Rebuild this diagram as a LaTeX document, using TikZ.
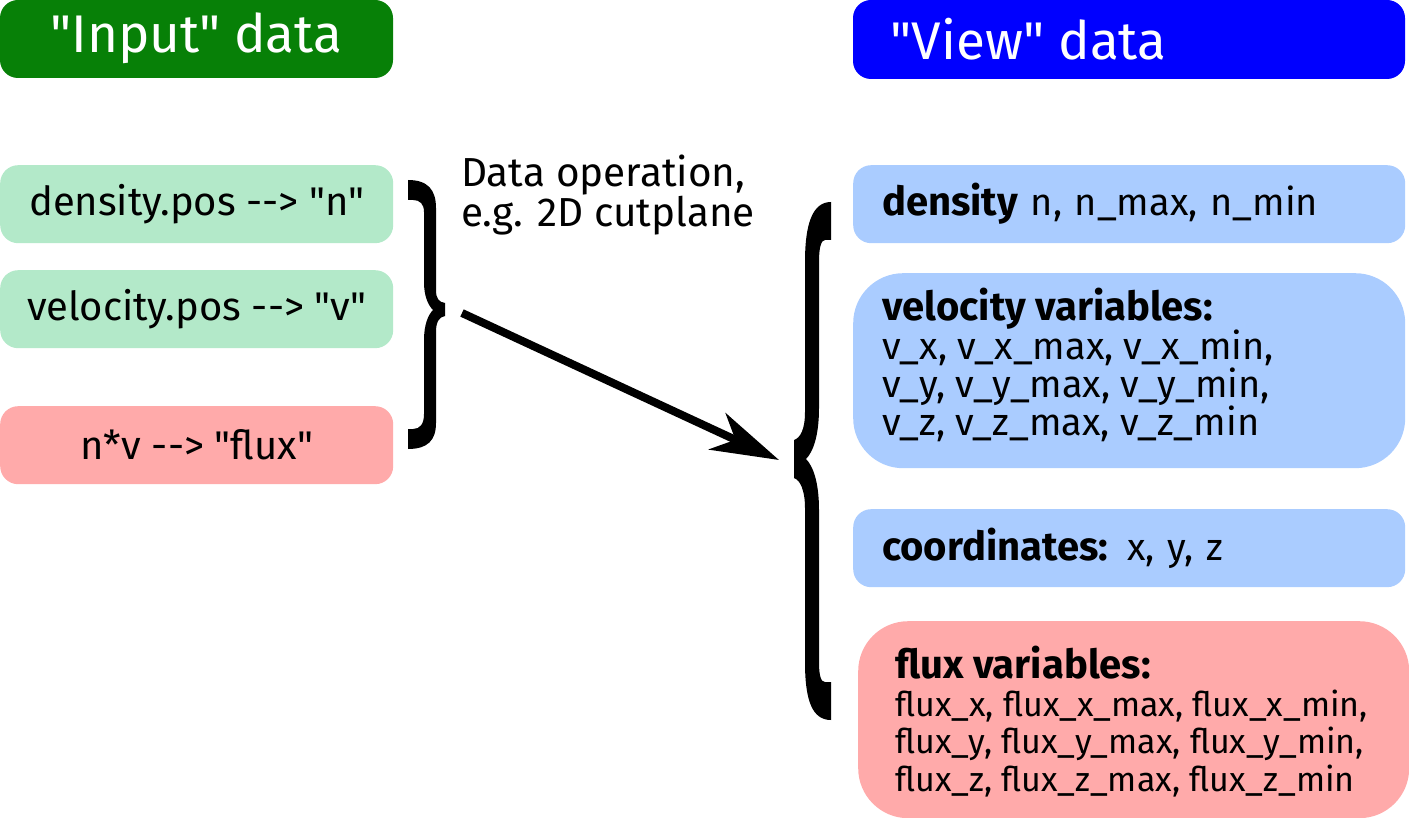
\documentclass[tikz,border=0pt]{standalone}
\usepackage{fontspec}
\setmainfont{Fira Sans}[Ligatures=TeXOff]
\usetikzlibrary{arrows.meta}
\definecolor{hdgreen}{RGB}{7,128,7}
\definecolor{hdblue}{RGB}{0,0,255}
\definecolor{lgreen}{RGB}{179,233,201}
\definecolor{lpink}{RGB}{255,170,170}
\definecolor{lblue}{RGB}{170,204,255}
\newcommand{\ttl}[1]{{\fontsize{40}{38}\selectfont\textbf{#1}}}
\tikzset{
  hdrtext/.style={text=white, inner sep=0pt, font=\fontsize{53}{56}\selectfont},
  lbox/.style={draw=none, rounded corners=18pt, inner sep=0pt, anchor=north west,
               minimum width=393pt, minimum height=78pt, font=\fontsize{40}{40}\selectfont},
  rbox/.style={draw=none, rounded corners=18pt, inner ysep=0pt, inner xsep=29pt, anchor=north west,
               minimum width=552pt, text width=494pt, align=left, font=\fontsize{38}{38}\selectfont},
  rshape/.style={draw=none, rounded corners=50pt, inner sep=0pt, anchor=north west},
  rtext/.style={anchor=west, align=left, inner sep=0pt},
  bracefill/.style={fill=black, draw=none},
  bigarrow/.style={line width=8pt, -{Stealth[length=68pt, width=40pt, inset=20pt]}}
}
\begin{document}
\begin{tikzpicture}[x=1pt, y=-1pt]
\useasboundingbox (0,0) rectangle (1409,818);

% headers
\fill[hdgreen, rounded corners=18pt] (0,0) rectangle (393,78);
\node[hdrtext] (inp) at (196.5,38) {"Input" data};
\fill[hdblue, rounded corners=18pt] (853,0) rectangle (1405,79);
\node[hdrtext, anchor=west] (view) at (890,39) {"View" data};

% left boxes
\node[lbox, fill=lgreen] (dens) at (0,165) {density.pos --> "n"};
\node[lbox, fill=lgreen] (velo) at (0,270) {velocity.pos --> "v"};
\node[lbox, fill=lpink] (flux) at (0,406) {n*v --> "flux"};

% left brace
\path[bracefill] (408,180) .. controls (428,180) and (436,190) .. (436,208)
  -- (436,290) .. controls (436,299) and (439,302) .. (445,303)
  -- (445,316) .. controls (439,317) and (436,322) .. (436,332)
  -- (436,423) .. controls (436,440) and (428,449) .. (408,449)
  -- (408,429) -- (413,429) .. controls (420,429) and (424,424) .. (424,414)
  -- (424,340) .. controls (424,325) and (428,315) .. (433,310)
  .. controls (428,305) and (424,296) .. (424,282)
  -- (424,212) .. controls (424,204) and (420,200) .. (413,200)
  -- (408,200) -- cycle;

% label
\node[anchor=north west, align=left, inner sep=0pt, font=\fontsize{40.5}{36}\selectfont] (op) at (461,155) {Data operation,\\e.g. 2D cutplane};

% arrow
\coordinate (a0) at (462,313);
\coordinate (a1) at (779,460);
\draw[bigarrow] (a0) -- (a1);

% right brace
\path[bracefill] (831,202) .. controls (812,202) and (805,225) .. (805,262)
  -- (805,412) .. controls (805,430) and (800,438) .. (794,440)
  -- (794,478) .. controls (800,480) and (805,490) .. (805,508)
  -- (805,662) .. controls (805,700) and (812,720) .. (831,720)
  -- (831,682) -- (825,682) .. controls (821,682) and (819,676) .. (819,662)
  -- (819,510) .. controls (819,482) and (813,466) .. (806,459)
  .. controls (813,452) and (819,436) .. (819,408)
  -- (819,262) .. controls (819,248) and (821,240) .. (825,240)
  -- (831,240) -- cycle;

% right boxes
\node[rbox, fill=lblue, minimum height=78pt] (rdens) at (853,165) {\ttl{density} n, n\_max, n\_min};

\node[rshape, fill=lblue, minimum width=552pt, minimum height=195pt] (rvelo) at (853,273) {};
\node[rtext, font=\fontsize{38}{38}\selectfont] (rvelot) at ([xshift=29pt, yshift=6pt]rvelo.west)
  {\ttl{velocity variables:}\\v\_x, v\_x\_max, v\_x\_min,\\v\_y, v\_y\_max, v\_y\_min,\\v\_z, v\_z\_max, v\_z\_min};

\node[rbox, fill=lblue, minimum height=78pt] (rcoord) at (853,509) {\ttl{coordinates:} x, y, z};

\node[rshape, fill=lpink, minimum width=551pt, minimum height=197pt] (rflux) at (858,621) {};
\node[rtext, font=\fontsize{34}{37.5}\selectfont] (rfluxt) at ([xshift=37pt, yshift=-2pt]rflux.west)
  {\ttl{flux variables:}\\flux\_x, flux\_x\_max, flux\_x\_min,\\flux\_y, flux\_y\_max, flux\_y\_min,\\flux\_z, flux\_z\_max, flux\_z\_min};
\end{tikzpicture}
\end{document}
